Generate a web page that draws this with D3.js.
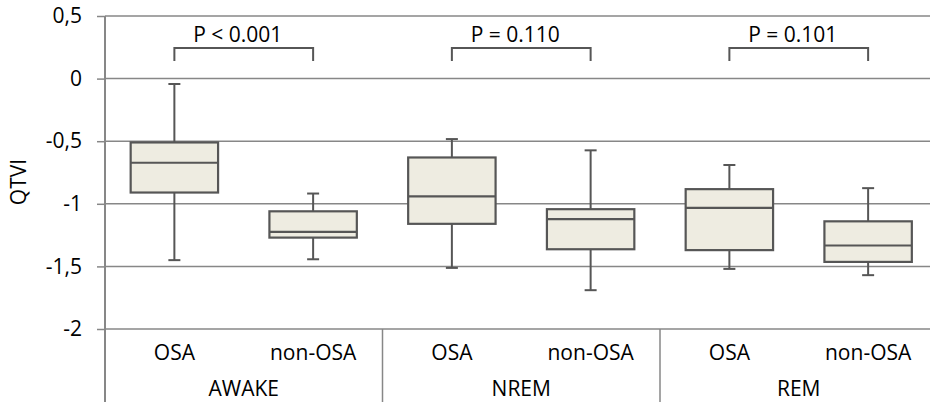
<!DOCTYPE html>
<html><head><meta charset="utf-8">
<script src="https://cdn.jsdelivr.net/npm/d3@7"></script>
<style>
html,body{margin:0;padding:0;background:#fff;}
svg{display:block;font-family:"Open Sans",sans-serif;}
</style></head>
<body><svg id="c" width="930" height="402"></svg>
<script>
const groups = ["AWAKE", "NREM", "REM"];
const subgroups = ["OSA", "non-OSA"];
// each box: [lowerWhisker, q1, median, q3, upperWhisker]
const awakeBoxes = [[-1.45, -0.91, -0.672, -0.51, -0.043], [-1.443, -1.27, -1.224, -1.06, -0.918]];
const nremBoxes  = [[-1.512, -1.16, -0.94, -0.63, -0.483], [-1.69, -1.363, -1.123, -1.043, -0.573]];
const remBoxes   = [[-1.52, -1.37, -1.032, -0.883, -0.69], [-1.57, -1.464, -1.333, -1.14, -0.875]];
const pLabels = ["P < 0.001", "P = 0.110", "P = 0.101"];
const yTicks = [0.5, 0, -0.5, -1, -1.5, -2];
const yLabel = "QTVI";

const boxesByGroup = [awakeBoxes, nremBoxes, remBoxes];
const svg = d3.select("#c");
const mLeft = 105, mTop = 16, mBottom = 329, groupW = 277.5;
const FS = 21, ink = "#000";
const y = d3.scaleLinear().domain([-2, 0.5]).range([mBottom, mTop]);
const x0 = d3.scaleBand().domain(groups).range([mLeft, mLeft + groupW * groups.length]);
const x1 = d3.scaleBand().domain(subgroups).range([0, x0.bandwidth()]);
const boxW = x1.bandwidth() * 0.63;
const fmt = d3.formatLocale({decimal: ",", thousands: ".", grouping: [3], currency: ["", ""], minus: "-"}).format("~g");
const grid = "#878787", dark = "#565656", fill = "#EEECE1";

// gridlines
svg.append("g").selectAll("line").data(yTicks).join("line")
  .attr("x1", mLeft).attr("x2", 930).attr("y1", d => y(d)).attr("y2", d => y(d))
  .attr("stroke", grid).attr("stroke-width", 1.5);
// y axis
const yAxis = svg.append("g").attr("transform", `translate(${mLeft},0)`)
  .call(d3.axisLeft(y).tickValues(yTicks).tickFormat(fmt).tickSize(8).tickPadding(15));
yAxis.select(".domain").remove();
yAxis.selectAll(".tick line").attr("stroke", grid).attr("stroke-width", 1.5);
yAxis.selectAll(".tick text").attr("font-size", FS).attr("fill", ink).attr("font-family", "Open Sans");
svg.append("line").attr("x1", mLeft).attr("x2", mLeft).attr("y1", mTop).attr("y2", 402)
  .attr("stroke", grid).attr("stroke-width", 2);
// group separators
svg.append("g").selectAll("line").data(groups).join("line")
  .attr("x1", d => x0(d) + x0.bandwidth()).attr("x2", d => x0(d) + x0.bandwidth())
  .attr("y1", mBottom).attr("y2", 402).attr("stroke", grid).attr("stroke-width", 1.5);

// y label
svg.append("text").attr("transform", "translate(26,182) rotate(-90)")
  .attr("text-anchor", "middle").attr("font-size", FS).attr("fill", ink).text(yLabel);

groups.forEach((g, gi) => {
  const gg = svg.append("g").attr("transform", `translate(${x0(g)},0)`);
  subgroups.forEach((s, si) => {
    const [lo, q1, med, q3, hi] = boxesByGroup[gi][si];
    const cx = x1(s) + x1.bandwidth() / 2;
    const b = gg.append("g");
    b.append("line").attr("x1", cx).attr("x2", cx).attr("y1", y(hi)).attr("y2", y(q3)).attr("stroke", dark).attr("stroke-width", 2);
    b.append("line").attr("x1", cx).attr("x2", cx).attr("y1", y(q1)).attr("y2", y(lo)).attr("stroke", dark).attr("stroke-width", 2);
    [hi, lo].forEach(v => b.append("line").attr("x1", cx - 6).attr("x2", cx + 6).attr("y1", y(v)).attr("y2", y(v)).attr("stroke", dark).attr("stroke-width", 2));
    b.append("rect").attr("x", cx - boxW / 2).attr("width", boxW).attr("y", y(q3)).attr("height", y(q1) - y(q3))
      .attr("fill", fill).attr("stroke", dark).attr("stroke-width", 2.2);
    b.append("line").attr("x1", cx - boxW / 2).attr("x2", cx + boxW / 2).attr("y1", y(med)).attr("y2", y(med)).attr("stroke", dark).attr("stroke-width", 2.2);
    gg.append("text").attr("x", cx).attr("y", 360).attr("text-anchor", "middle").attr("font-size", FS).attr("fill", ink).text(s);
  });
  gg.append("text").attr("x", x0.bandwidth() / 2).attr("y", 396).attr("text-anchor", "middle").attr("font-size", FS).attr("fill", ink).text(g);
  // bracket
  const ax = x1(subgroups[0]) + x1.bandwidth() / 2, bx = x1(subgroups[1]) + x1.bandwidth() / 2;
  gg.append("path").attr("d", `M${ax},61V48H${bx}V61`).attr("fill", "none").attr("stroke", dark).attr("stroke-width", 2);
  gg.append("text").attr("x", (ax + bx) / 2 - 6).attr("y", 42).attr("text-anchor", "middle").attr("font-size", FS).attr("fill", ink).text(pLabels[gi]);
});
</script></body></html>
